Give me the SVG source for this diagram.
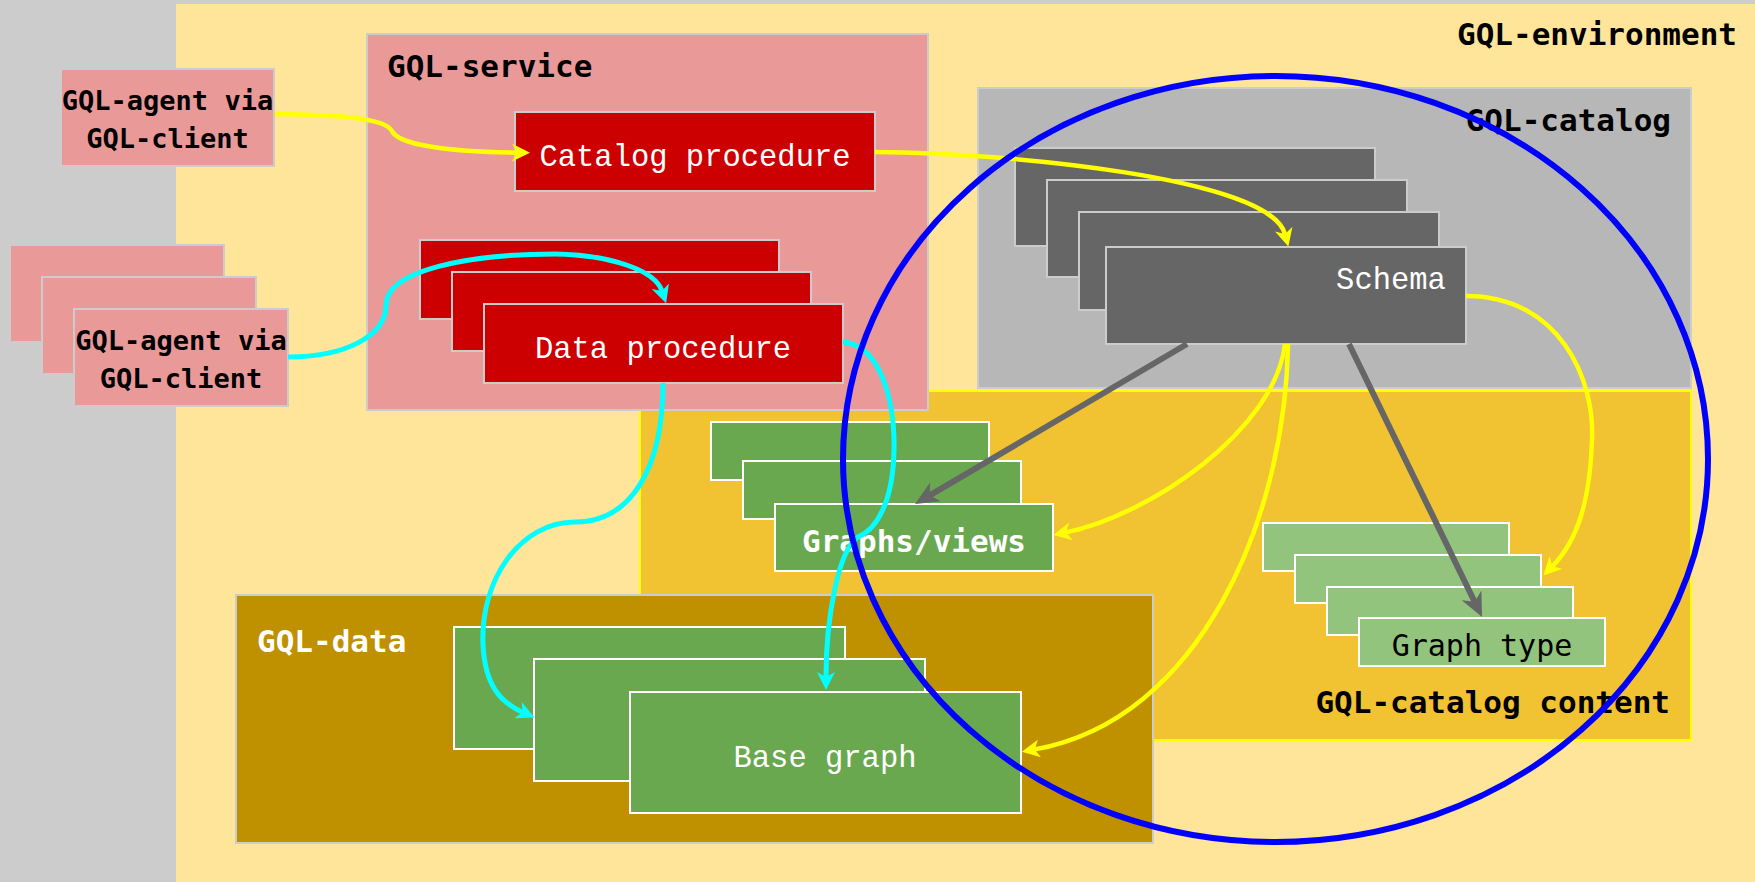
<svg xmlns="http://www.w3.org/2000/svg" width="1755" height="882" viewBox="0 0 1755 882">
  <style>
    .title{font-family:"DejaVu Sans Mono","Liberation Mono",monospace;font-size:31px;font-weight:bold;fill:#000}
    .title-w{font-family:"DejaVu Sans Mono","Liberation Mono",monospace;font-size:31px;font-weight:bold;fill:#fff}
    .agent{font-family:"DejaVu Sans Mono","Liberation Mono",monospace;font-size:27px;font-weight:bold;fill:#000;text-anchor:middle}
    .light{font-family:"Liberation Mono","DejaVu Sans Mono",monospace;font-size:30.5px;fill:#fff;text-anchor:middle}
    .dark{font-family:"DejaVu Sans Mono","Liberation Mono",monospace;font-size:30px;fill:#000;text-anchor:middle}
    .pink{fill:#ea9999;stroke:#cccccc;stroke-width:2}
    .red{fill:#cc0000;stroke:#cccccc;stroke-width:2}
    .dgray{fill:#666666;stroke:#cccccc;stroke-width:2}
    .green{fill:#6aa84f;stroke:#ffffff;stroke-width:2}
    .lgreen{fill:#93c47d;stroke:#ffffff;stroke-width:2}
    .wire{fill:none}
    .y{stroke:#ffff00;stroke-width:4.5}
    .c{stroke:#00ffff;stroke-width:5}
    .g{stroke:#666666;stroke-width:6}
  </style>
  <defs>
    <marker id="arrow-yellow" markerUnits="userSpaceOnUse" viewBox="0 0 18 18" markerWidth="18" markerHeight="18" refX="5" refY="9" orient="auto">
      <path d="M0,0 L18,9 L0,18 L5,9 z" fill="#ffff00"/>
    </marker>
    <marker id="arrow-cyan" markerUnits="userSpaceOnUse" viewBox="0 0 18 18" markerWidth="18" markerHeight="18" refX="5" refY="9" orient="auto">
      <path d="M0,0 L18,9 L0,18 L5,9 z" fill="#00ffff"/>
    </marker>
    <marker id="arrow-gray" markerUnits="userSpaceOnUse" viewBox="0 0 24 22" markerWidth="24" markerHeight="22" refX="7" refY="11" orient="auto">
      <path d="M0,0 L24,11 L0,22 L7,11 z" fill="#666666"/>
    </marker>
  </defs>

  <!-- backdrop -->
  <rect x="0" y="0" width="1755" height="882" fill="#cccccc"/>

  <g id="gql-environment">
    <rect x="176" y="4" width="1579" height="878" fill="#ffe599"/>
    <text class="title" x="1737" y="45" text-anchor="end">GQL-environment</text>
  </g>

  <g id="gql-catalog">
    <rect x="978" y="88" width="713" height="300" fill="#b7b7b7" stroke="#cccccc" stroke-width="2"/>
    <text class="title" x="1671" y="131" text-anchor="end">GQL-catalog</text>
  </g>

  <g id="schema">
    <rect class="dgray" x="1015" y="148" width="360" height="98"/>
    <rect class="dgray" x="1047" y="180" width="360" height="97"/>
    <rect class="dgray" x="1079" y="212" width="360" height="98"/>
    <rect class="dgray" x="1106" y="247" width="360" height="97"/>
    <text class="light" x="1391" y="289">Schema</text>
  </g>

  <g id="gql-catalog-content">
    <rect x="640" y="391" width="1051" height="349" fill="#f1c232" stroke="#ffff00" stroke-width="2"/>
    <text class="title" x="1670" y="713" text-anchor="end">GQL-catalog content</text>
  </g>

  <g id="graphs-views">
    <rect class="green" x="711" y="422" width="278" height="58"/>
    <rect class="green" x="743" y="461" width="278" height="58"/>
    <rect class="green" x="775" y="504" width="278" height="67"/>
    <text class="title-w" x="914" y="552" text-anchor="middle">Graphs/views</text>
  </g>

  <g id="graph-type">
    <rect class="lgreen" x="1263" y="523" width="246" height="48"/>
    <rect class="lgreen" x="1295" y="555" width="246" height="48"/>
    <rect class="lgreen" x="1327" y="587" width="246" height="48"/>
    <rect class="lgreen" x="1359" y="618" width="246" height="48"/>
    <text class="dark" x="1482" y="656">Graph type</text>
  </g>

  <g id="gql-service">
    <rect class="pink" x="367" y="34" width="561" height="376"/>
    <text class="title" x="387" y="77">GQL-service</text>
  </g>

  <g id="catalog-procedure">
    <rect class="red" x="515" y="112" width="360" height="79"/>
    <text class="light" x="695" y="166">Catalog procedure</text>
  </g>

  <g id="data-procedure">
    <rect class="red" x="420" y="240" width="359" height="79"/>
    <rect class="red" x="452" y="272" width="359" height="79"/>
    <rect class="red" x="484" y="304" width="359" height="79"/>
    <text class="light" x="663" y="358">Data procedure</text>
  </g>

  <g id="gql-data">
    <rect x="236" y="595" width="917" height="248" fill="#bf9000" stroke="#cccccc" stroke-width="2"/>
    <text class="title-w" x="257" y="652">GQL-data</text>
  </g>

  <g id="base-graph">
    <rect class="green" x="454" y="627" width="391" height="122"/>
    <rect class="green" x="534" y="659" width="391" height="122"/>
    <rect class="green" x="630" y="692" width="391" height="121"/>
    <text class="light" x="825" y="767">Base graph</text>
  </g>

  <g id="agent-catalog">
    <rect class="pink" x="61" y="69" width="213" height="97"/>
    <text class="agent" x="167.5" y="110">GQL-agent via</text>
    <text class="agent" x="167.5" y="147.5">GQL-client</text>
  </g>

  <g id="agent-data">
    <rect class="pink" x="10" y="245" width="214" height="97"/>
    <rect class="pink" x="42" y="277" width="214" height="97"/>
    <rect class="pink" x="74" y="309" width="214" height="97"/>
    <text class="agent" x="181" y="350">GQL-agent via</text>
    <text class="agent" x="181" y="388">GQL-client</text>
  </g>

  <g id="connectors">
    <!-- catalog requests -->
    <path class="wire y" d="M275,114 C340,115 385,118 392,131 C398,145 450,152 517,152.7" marker-end="url(#arrow-yellow)"/>
    <path class="wire y" d="M875,152 C1010,153 1270,178 1285,234" marker-end="url(#arrow-yellow)"/>
    <!-- data requests -->
    <path class="wire c" d="M288,357 C345,357 386,336 386,305 C386,270 470,254 555,254 C610,255 655,270 662,291" marker-end="url(#arrow-cyan)"/>
    <path class="wire c" d="M663,383 C663,470 630,522 575,522 C520,522 480,580 483,645 C485,685 500,702 522.6,712.2" marker-end="url(#arrow-cyan)"/>
    <path class="wire c" d="M843,342 C880,345 895,400 894,450 C893,505 875,530 858,537 C838,550 826,620 826,677" marker-end="url(#arrow-cyan)"/>
    <!-- schema contents -->
    <path class="wire g" d="M1187,344 L929.7,495.4" marker-end="url(#arrow-gray)"/>
    <path class="wire g" d="M1349,344 L1474.6,601.7" marker-end="url(#arrow-gray)"/>
    <path class="wire y" d="M1285,344 C1275,430 1150,515 1066,532.4" marker-end="url(#arrow-yellow)"/>
    <path class="wire y" d="M1288,344 C1285,520 1200,720 1034.6,749.4" marker-end="url(#arrow-yellow)"/>
    <path class="wire y" d="M1466,296 C1560,296 1595,380 1592,440 C1590,500 1578,540 1552.5,566.2" marker-end="url(#arrow-yellow)"/>
  </g>

  <g id="catalog-scope">
    <ellipse cx="1275.5" cy="459" rx="432.5" ry="383" fill="none" stroke="#0000ff" stroke-width="6"/>
  </g>
</svg>
